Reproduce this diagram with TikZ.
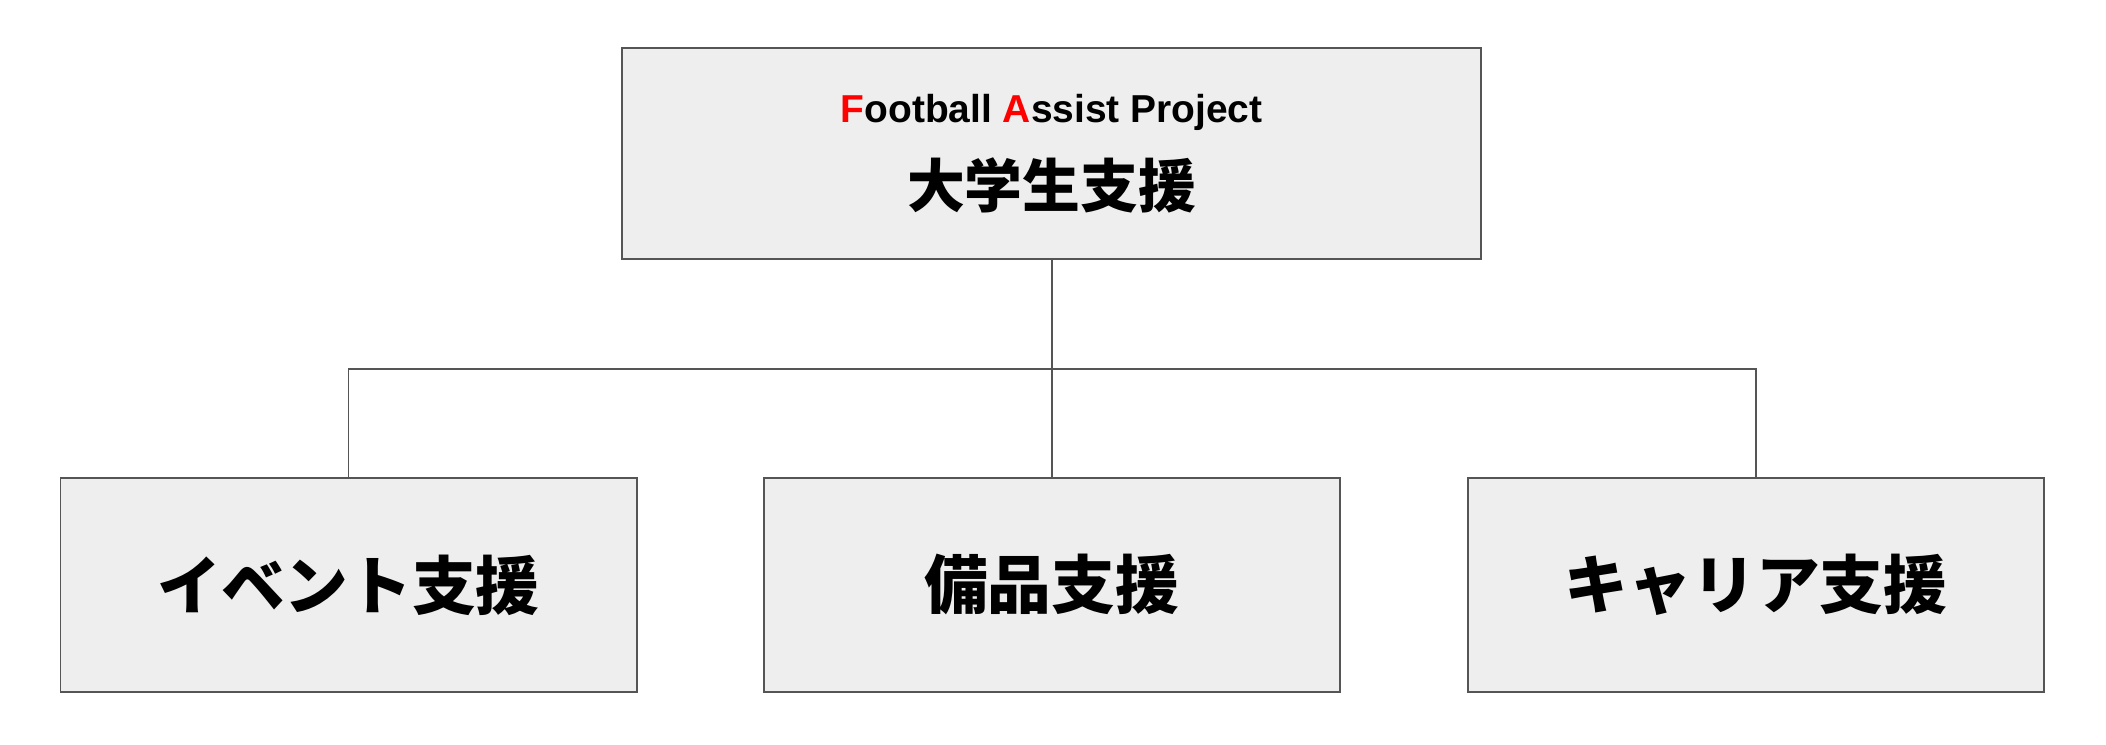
\documentclass[tikz,border=0pt]{standalone}
\usepackage{fontspec}
\setmainfont{Liberation Sans}
\newfontfamily\cjk{Noto Sans CJK JP}
\usetikzlibrary{positioning}
\definecolor{boxfill}{HTML}{EEEEEE}
\definecolor{boxline}{HTML}{555555}
\tikzset{orgbox/.style={draw=boxline, fill=boxfill, line width=0.8pt, minimum width=8.58cm, minimum height=3.18cm, font=\cjk\bfseries\fontsize{27}{32}\selectfont}}
\tikzset{link/.style={draw=boxline, line width=0.8pt}}
\begin{document}
\begin{tikzpicture}[x=0.02cm,y=-0.02cm]
	\useasboundingbox (0,0) rectangle (1568,554);
	\node[orgbox, minimum width=12.8cm, minimum height=3.14cm, align=center] (root) at (783,114.5)
		{{\normalfont\bfseries\fontsize{16.5}{19}\selectfont\textcolor{red}{F}ootball \textcolor{red}{A}ssist Project}\\[4pt]
		{\cjk\bfseries\fontsize{24.5}{29}\selectfont 大学生支援}};
	\node[orgbox] (event) at (259.5,435.5) {イベント支援};
	\node[orgbox] (gear) at (783,435.5) {備品支援};
	\node[orgbox] (career) at (1307.5,435.5) {キャリア支援};
	\coordinate (hub) at (783,275);
	\draw[link] (root) -- (hub) -- (gear);
	\draw[link] (event) |- (hub) -| (career);
\end{tikzpicture}
\end{document}
